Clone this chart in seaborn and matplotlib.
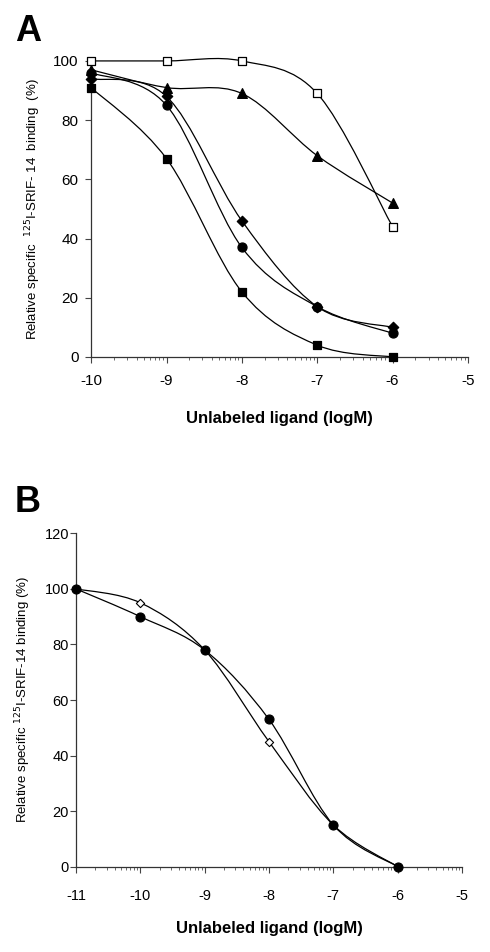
"""
Competitive binding curves of 125I-SRIF-14 (panels A and B), redrawn
with seaborn markers and Excel-style smoothed connecting lines.
"""

import numpy as np
import pandas as pd
import matplotlib
matplotlib.use("Agg")
import matplotlib.pyplot as plt
from matplotlib.path import Path
from matplotlib.patches import PathPatch
import seaborn as sns

# Panel A data: log concentration vs relative binding (%)
A_LOGM = [-10, -9, -8, -7, -6]
A_OPEN_SQUARE = [100, 100, 100, 89, 44]
A_TRIANGLE = [97, 91, 89, 68, 52]
A_DIAMOND = [94, 88, 46, 17, 10]
A_CIRCLE = [96, 85, 37, 17, 8]
A_SQUARE = [91, 67, 22, 4, 0]

# Panel B data
B_LOGM = [-11, -10, -9, -8, -7, -6]
B_CIRCLE = [100, 90, 78, 53, 15, 0]
B_OPEN_DIAMOND = [100, 95, 78, 45, 15, 0]

A_XTICKS = [-10, -9, -8, -7, -6, -5]
A_YTICKS = [0, 20, 40, 60, 80, 100]
B_XTICKS = [-11, -10, -9, -8, -7, -6, -5]
B_YTICKS = [0, 20, 40, 60, 80, 100, 120]


def smooth_line(ax, xs, ys, lw=0.9):
    """Draw a Catmull-Rom style bezier through the points (like Excel smoothing)."""
    pts = np.column_stack([xs, ys]).astype(float)
    n = len(pts)
    verts = [pts[0]]
    codes = [Path.MOVETO]
    for i in range(n - 1):
        p0 = pts[i - 1] if i > 0 else pts[i]
        p1 = pts[i]
        p2 = pts[i + 1]
        p3 = pts[i + 2] if i + 2 < n else pts[i + 1]
        c1 = p1 + (p2 - p0) / 6.0
        c2 = p2 - (p3 - p1) / 6.0
        verts += [c1, c2, p2]
        codes += [Path.CURVE4] * 3
    patch = PathPatch(Path(verts, codes), facecolor="none", edgecolor="black",
                      lw=lw, clip_on=False, zorder=2)
    ax.add_patch(patch)


def style_axis(ax, xlim, ylim, xticks, yticks, tick_fs, xpad, ypad):
    sns.despine(ax=ax)
    ax.set_xlim(*xlim)
    ax.set_ylim(*ylim)
    ax.set_xticks(xticks)
    ax.set_yticks(yticks)
    minors = [d + np.log10(k) for d in range(xlim[0], xlim[1]) for k in range(2, 10)]
    ax.set_xticks(minors, minor=True)
    ax.tick_params(axis="both", which="major", labelsize=tick_fs, length=4,
                   width=0.8, color="#444444", labelcolor="black", direction="out",
                   bottom=True, left=True)
    ax.tick_params(axis="x", which="major", pad=xpad)
    ax.tick_params(axis="y", which="major", pad=ypad)
    ax.tick_params(axis="x", which="minor", length=2.5, width=0.6, color="#555555",
                   bottom=True)
    ax.tick_params(axis="y", which="minor", length=0)
    for s in ["left", "bottom"]:
        ax.spines[s].set_linewidth(0.9)
        ax.spines[s].set_color("#333333")
    ax.grid(False)


sns.set_style("ticks")
plt.rcParams["font.family"] = ["Liberation Sans", "DejaVu Sans"]
plt.rcParams["axes.unicode_minus"] = False
plt.rcParams["text.color"] = "black"
plt.rcParams["axes.labelcolor"] = "black"

fig = plt.figure(figsize=(4.9, 9.52), dpi=100)
ax_a = fig.add_axes([0.186, 0.625, 0.769, 0.311])
ax_b = fig.add_axes([0.155, 0.0896, 0.788, 0.3502])

# ---- Panel A ----
a_series = [
    (A_OPEN_SQUARE, "s", "white", 6.2),
    (A_TRIANGLE, "^", "black", 7.0),
    (A_DIAMOND, "D", "black", 5.3),
    (A_CIRCLE, "o", "black", 6.5),
    (A_SQUARE, "s", "black", 6.2),
]
for vals, marker, face, size in a_series:
    smooth_line(ax_a, A_LOGM, vals)
    df = pd.DataFrame({"logM": A_LOGM, "binding": vals})
    sns.scatterplot(data=df, x="logM", y="binding", marker=marker, s=size ** 2,
                    color=face, edgecolor="black", linewidth=0.9, ax=ax_a,
                    zorder=3, clip_on=False, legend=False)

style_axis(ax_a, (-10, -5), (0, 100), A_XTICKS, A_YTICKS, 11, xpad=8, ypad=5)
ax_a.set_xlabel("Unlabeled ligand (logM)", fontsize=12, fontweight="bold", labelpad=17)
ax_a.set_ylabel(r"Relative specific  $^{125}$I-SRIF- 14  binding  (%)", fontsize=9.5,
                labelpad=7)

# ---- Panel B ----
smooth_line(ax_b, B_LOGM, B_OPEN_DIAMOND)
smooth_line(ax_b, B_LOGM, B_CIRCLE)
df_b = pd.DataFrame({"logM": B_LOGM, "circle": B_CIRCLE, "diamond": B_OPEN_DIAMOND})
sns.scatterplot(data=df_b, x="logM", y="diamond", marker="D", s=4.2 ** 2,
                color="white", edgecolor="black", linewidth=0.8, ax=ax_b,
                zorder=3, clip_on=False, legend=False)
sns.scatterplot(data=df_b, x="logM", y="circle", marker="o", s=6.5 ** 2,
                color="black", edgecolor="black", linewidth=0.8, ax=ax_b,
                zorder=4, clip_on=False, legend=False)

style_axis(ax_b, (-11, -5), (0, 120), B_XTICKS, B_YTICKS, 10.5, xpad=12, ypad=1)
ax_b.set_xlabel("Unlabeled ligand (logM)", fontsize=12, fontweight="bold", labelpad=13)
ax_b.set_ylabel(r"Relative specific $^{125}$I-SRIF-14 binding (%)", fontsize=9.5,
                labelpad=8)

fig.text(0.03, 0.957, "A", fontsize=26, fontweight="bold", va="baseline")
fig.text(0.03, 0.462, "B", fontsize=26, fontweight="bold", va="baseline")

fig.savefig("out.png", dpi=100)
